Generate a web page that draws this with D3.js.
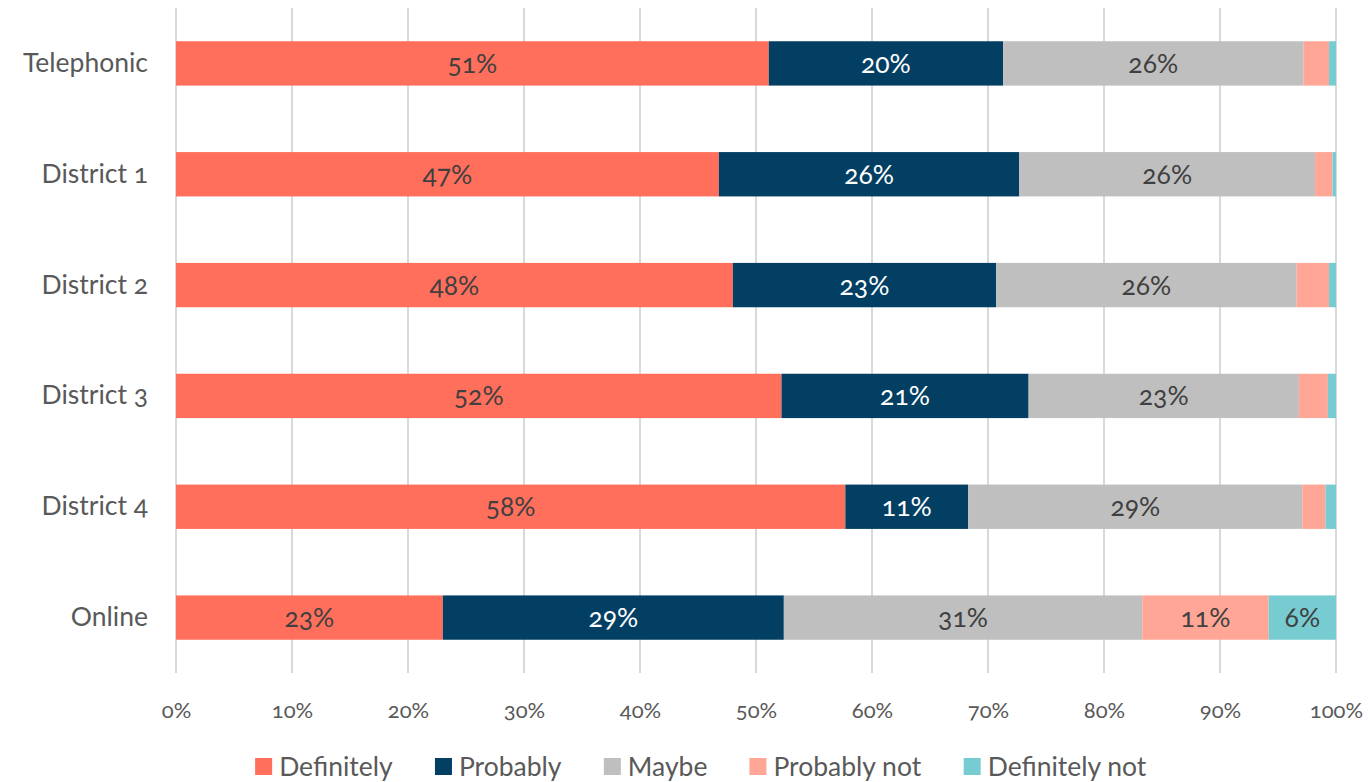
<!DOCTYPE html>
<html>
<head>
<meta charset="utf-8">
<script src="https://cdn.jsdelivr.net/npm/d3@7"></script>
<style>
  body { margin: 0; background: #fff; }
  text { font-family: Lato, "Open Sans", sans-serif; font-variant-numeric: oldstyle-nums; }
</style>
</head>
<body>
<div id="chart"></div>
<script>
// categories, top to bottom
var groups = ["Telephonic", "District 1", "District 2", "District 3", "District 4", "Online"];
var answers = ["Definitely", "Probably", "Maybe", "Probably not", "Definitely not"];

// share of each answer per group (%)
var definitely    = [51.1, 46.8, 48.0, 52.2, 57.7, 23.0];
var probably      = [20.2, 25.9, 22.7, 21.3, 10.6, 29.4];
var maybe         = [25.9, 25.5, 25.9, 23.3, 28.8, 30.9];
var probablyNot   = [2.2, 1.5, 2.8, 2.5, 2.0, 10.9];
var definitelyNot = [0.6, 0.3, 0.6, 0.7, 0.9, 5.8];

var xTicks = [0, 10, 20, 30, 40, 50, 60, 70, 80, 90, 100];

var colors = ["#ff6f5c", "#033f63", "#bfbfbf", "#ffa696", "#77ccd1"];
var labelColors = ["#404040", "#ffffff", "#404040", "#404040", "#404040"];

var width = 1371, height = 782;
var margin = {top: 8, right: 35, bottom: 109, left: 176};
var w = width - margin.left - margin.right,
    h = height - margin.top - margin.bottom;

// build rows for the stack
var rows = groups.map(function(g, i) {
  return {
    group: g,
    "Definitely": definitely[i],
    "Probably": probably[i],
    "Maybe": maybe[i],
    "Probably not": probablyNot[i],
    "Definitely not": definitelyNot[i]
  };
});

var series = d3.stack().keys(answers)(rows);

var svg = d3.select("#chart").append("svg")
    .attr("width", width)
    .attr("height", height);

var g = svg.append("g")
    .attr("transform", "translate(" + margin.left + "," + margin.top + ")");

var x = d3.scaleLinear().domain([0, 100]).range([0, w]);
var y = d3.scaleBand().domain(groups).range([0, h]).paddingInner(0.6).paddingOuter(0.3);

// gridlines
g.append("g").selectAll("line")
  .data(xTicks)
  .enter().append("line")
    .attr("x1", function(d) { return x(d); })
    .attr("x2", function(d) { return x(d); })
    .attr("y1", 0)
    .attr("y2", h)
    .style("stroke", "#d9d9d9")
    .style("stroke-width", 2);

// x axis labels
var xAxis = g.append("g")
    .attr("transform", "translate(0," + h + ")")
    .call(d3.axisBottom(x).tickValues(xTicks).tickSize(0).tickPadding(29).tickFormat(function(d) { return d + "%"; }));
xAxis.select(".domain").remove();
xAxis.selectAll("text")
    .style("font-size", "22px")
    .style("fill", "#595959")
    .style("font-family", "Lato, 'Open Sans', sans-serif");

// y axis labels
var yAxis = g.append("g")
    .call(d3.axisLeft(y).tickSize(0).tickPadding(28));
yAxis.select(".domain").remove();
yAxis.selectAll("text")
    .style("font-size", "26.5px")
    .style("fill", "#595959")
    .style("font-family", "Lato, 'Open Sans', sans-serif");

// bars
var layer = g.selectAll(".layer")
  .data(series)
  .enter().append("g")
    .attr("class", "layer")
    .style("fill", function(d, i) { return colors[i]; });

layer.selectAll("rect")
  .data(function(d) { return d; })
  .enter().append("rect")
    .attr("x", function(d) { return x(d[0]); })
    .attr("y", function(d) { return y(d.data.group); })
    .attr("width", function(d) { return x(d[1]) - x(d[0]); })
    .attr("height", y.bandwidth());

// value labels (only where there is room)
layer.each(function(s, i) {
  d3.select(this).selectAll("text")
    .data(s.filter(function(d) { return d[1] - d[0] >= 4; }))
    .enter().append("text")
      .attr("x", function(d) { return x((d[0] + d[1]) / 2); })
      .attr("y", function(d) { return y(d.data.group) + y.bandwidth() / 2; })
      .attr("dy", "0.36em")
      .attr("text-anchor", "middle")
      .style("font-size", "26.5px")
      .style("fill", labelColors[i])
      .text(function(d) { return Math.round(d[1] - d[0]) + "%"; });
});

// legend
var legend = svg.append("g").attr("transform", "translate(0,766)");
var items = legend.selectAll("g")
  .data(answers)
  .enter().append("g");
items.append("rect")
    .attr("width", 17)
    .attr("height", 17)
    .attr("y", -8)
    .style("fill", function(d, i) { return colors[i]; });
items.append("text")
    .attr("x", 24)
    .attr("dy", "0.36em")
    .style("font-size", "26.5px")
    .style("fill", "#595959")
    .text(function(d) { return d; });

var gap = 42;
var pos = [], cur = 0;
items.each(function() {
  pos.push(cur);
  cur += this.getBBox().width + gap;
});
var total = cur - gap;
var start = 701 - total / 2;
items.attr("transform", function(d, i) { return "translate(" + (start + pos[i]) + ",0)"; });
</script>
</body>
</html>
